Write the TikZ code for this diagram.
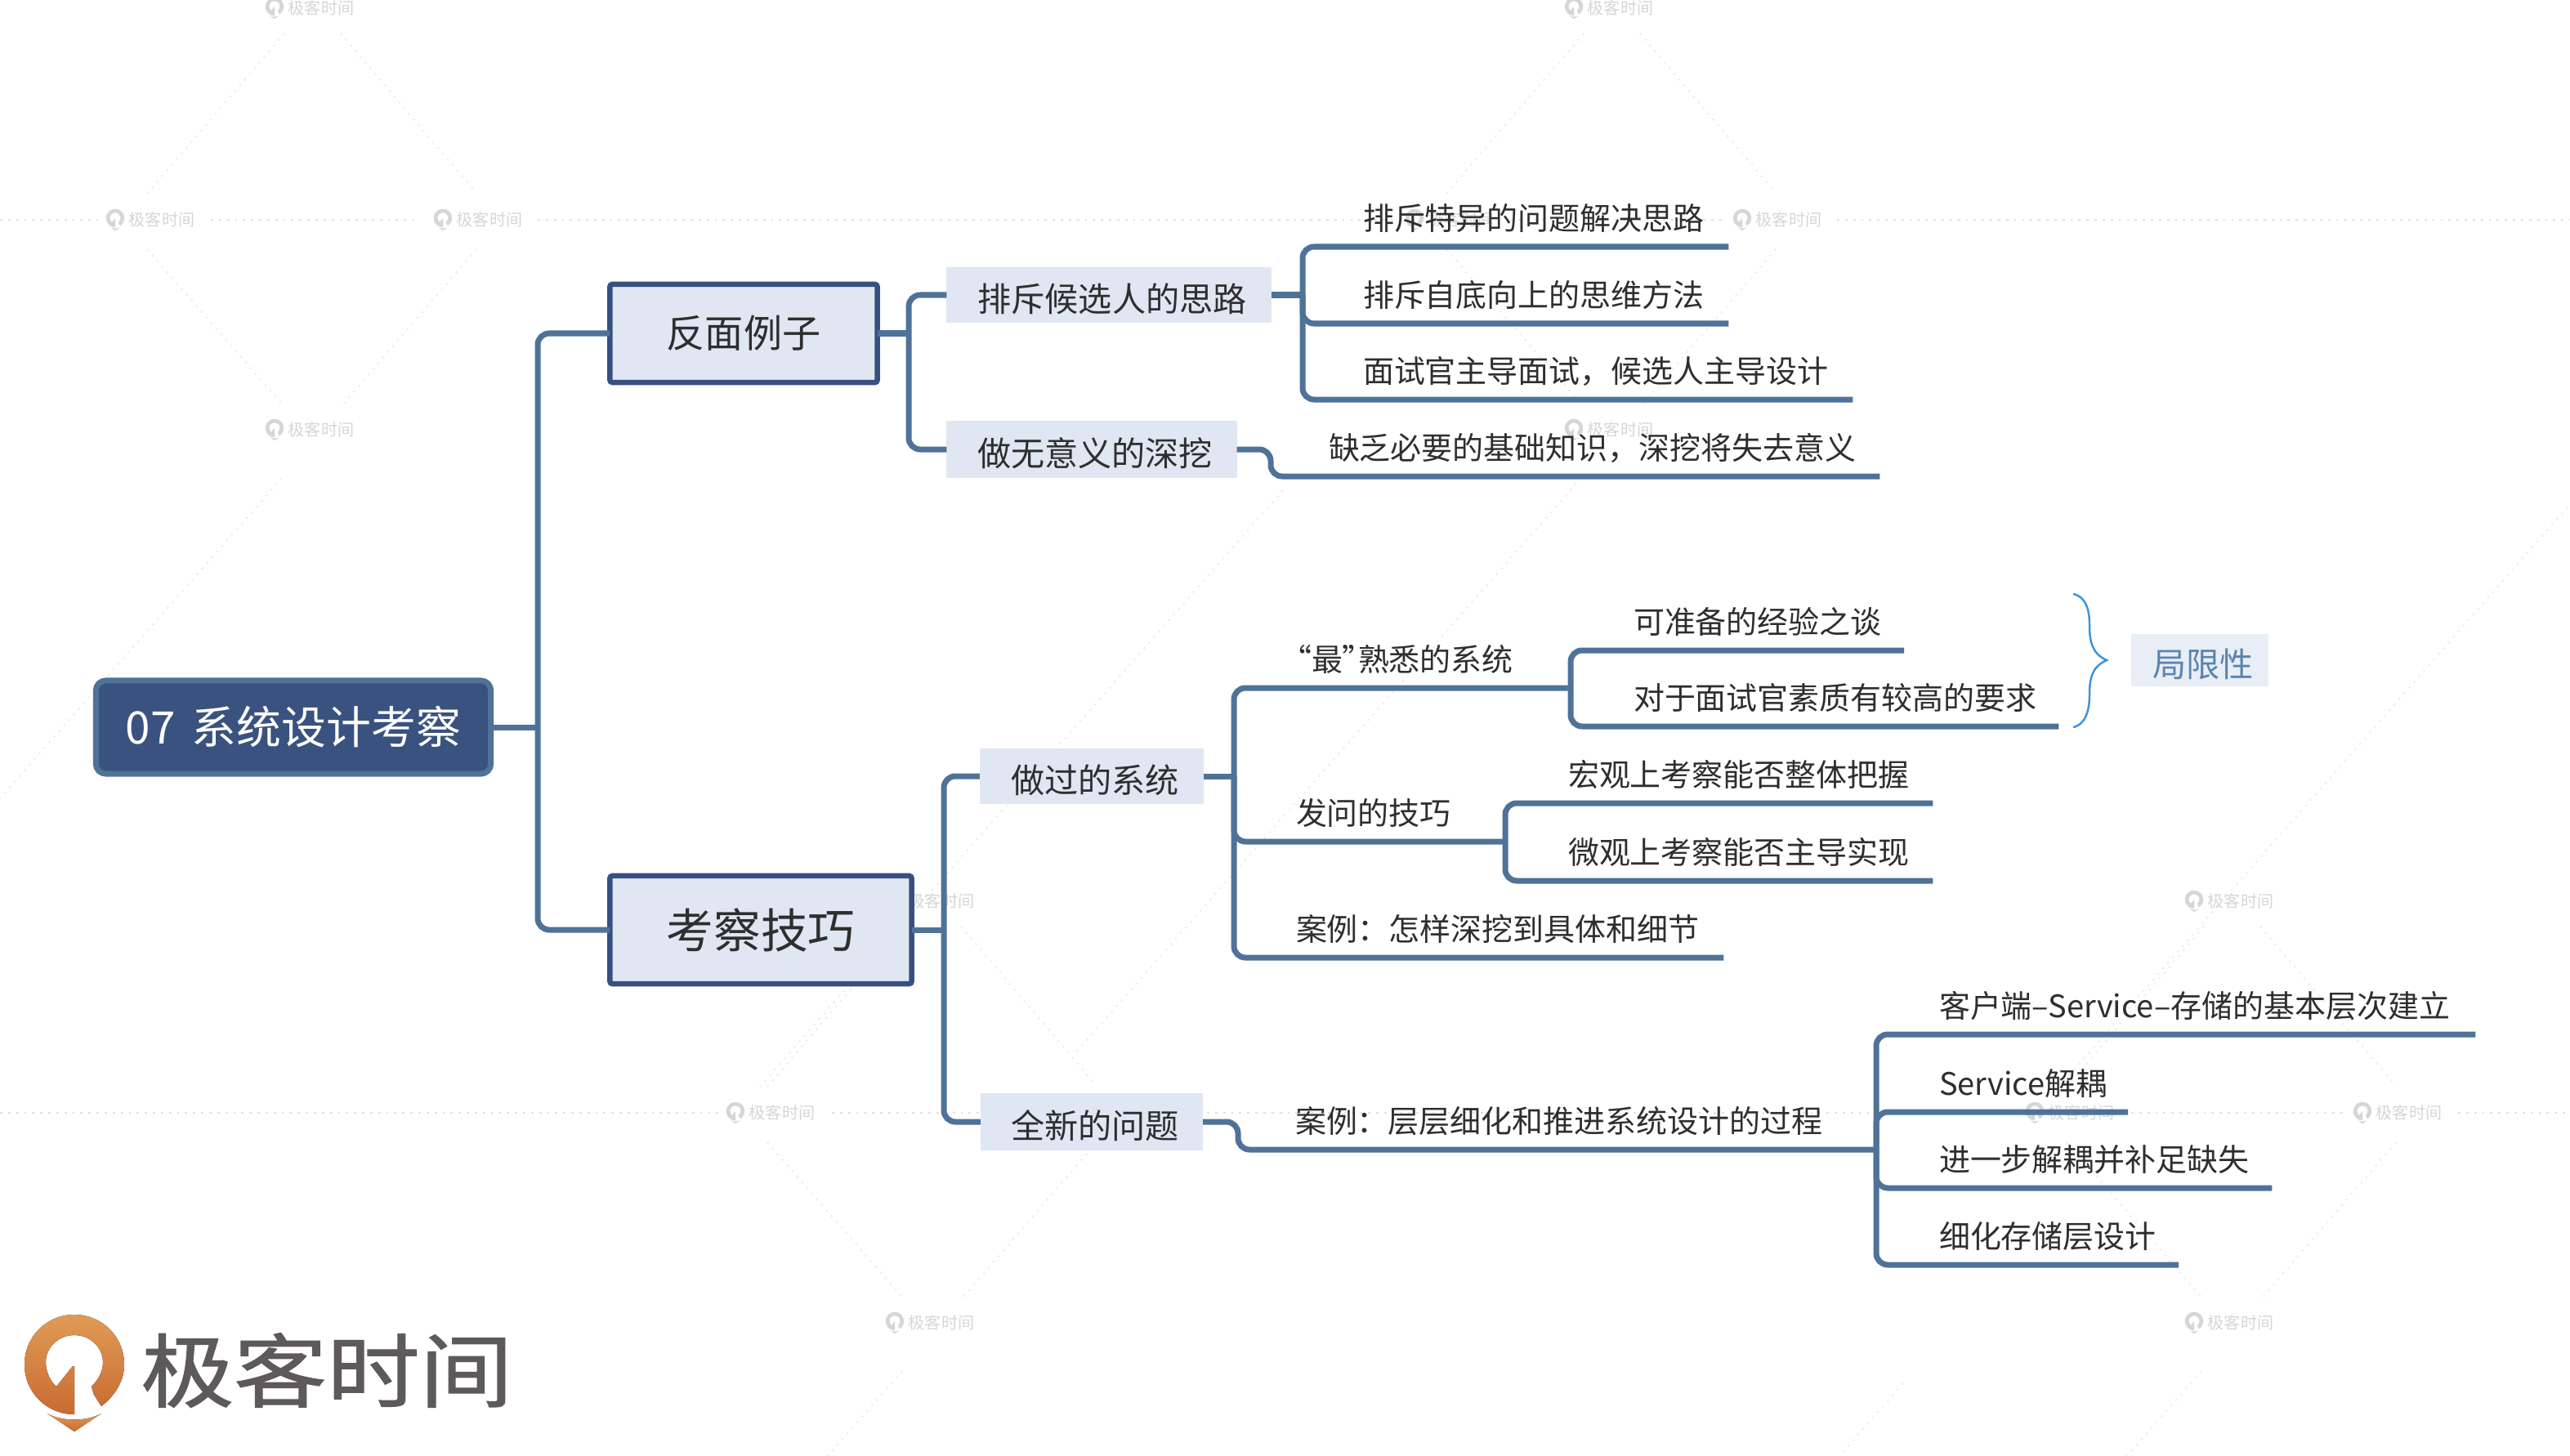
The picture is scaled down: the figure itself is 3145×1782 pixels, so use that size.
\documentclass[tikz,border=0pt]{standalone}
\usepackage{fontspec}
\setmainfont{Noto Sans CJK SC}
\newfontfamily\logofont[FakeBold=1.2]{Noto Sans CJK SC}
\usepackage{tikz}
\definecolor{linkblue}{RGB}{79, 114, 152}
\definecolor{rootfill}{RGB}{57, 82, 127}
\definecolor{boxedge}{RGB}{54, 80, 127}
\definecolor{boxfill}{RGB}{224, 230, 242}
\definecolor{notefill}{RGB}{232, 237, 246}
\definecolor{notetext}{RGB}{91, 132, 173}
\definecolor{bracecol}{RGB}{61, 147, 219}
\definecolor{inktext}{RGB}{46, 46, 46}
\definecolor{logotext}{RGB}{94, 90, 90}
\definecolor{logotop}{RGB}{224, 156, 85}
\definecolor{logobot}{RGB}{201, 106, 50}
\definecolor{wmgray}{RGB}{214, 214, 214}
\definecolor{wmline}{RGB}{226, 226, 226}
\definecolor{wmdiag}{RGB}{236, 236, 236}
\tikzset{
  branch/.style={line width=0.07cm, linkblue, rounded corners=0.14cm},
  rootbox/.style={draw=linkblue, fill=rootfill, line width=0.07cm, rounded corners=0.12cm,
    text=white, outer sep=0pt, font=\fontsize{15.6}{18}\selectfont},
  topbox/.style={draw=boxedge, fill=boxfill, line width=0.065cm, rounded corners=0.03cm,
    text=inktext, outer sep=0pt},
  subbox/.style={fill=boxfill, text=inktext, outer sep=0pt, text height=0.41cm, text depth=0cm,
    font=\fontsize{11.7}{14}\selectfont, execute at begin node=\hspace*{0.08cm}},
  topic/.style={anchor=south west, inner xsep=0pt, inner ysep=0.205cm, outer sep=0pt, text depth=0pt,
    text width=#1, align=left, text=inktext, font=\fontsize{10.8}{13}\selectfont,
    execute at begin node=\hspace*{-0.02cm}},
  wmtext/.style={text=wmgray, inner sep=0pt, font=\fontsize{5.7}{7}\selectfont},
  wmstroke/.style={wmline, line width=0.8pt, dotted},
  wmslant/.style={wmdiag, line width=0.6pt, dotted},
  pics/pinlogo/.style={code={
    \fill[pic actions] (0,61) .. controls (-34,61) and (-61,34) .. (-61,0)
      .. controls (-61,-34) and (-34,-61) .. (0,-61)
      .. controls (34,-61) and (61,-34) .. (61,0)
      .. controls (61,20) and (50,38) .. (33,51) -- (24,37) -- (21,27)
      .. controls (30,18) and (35,8) .. (35,-3)
      .. controls (35,-21) and (19,-36) .. (0,-36)
      .. controls (-19,-36) and (-35,-21) .. (-35,-3)
      .. controls (-35,8) and (-30,20) .. (-22,27) -- (-2,2) -- (0,2) -- cycle;
    \fill[pic actions] (-33,60) .. controls (-15,70) and (15,70) .. (33,60) -- (0,82) -- cycle;
  }},
}

\begin{document}
\begin{tikzpicture}[x=0.01cm, y=-0.01cm]
    \useasboundingbox (0,0) rectangle (3145,1782);

    % Watermark lattice
    \foreach \ox/\oy in {0/0, 1590/0, 759/1093, 2349/1093} {
        \draw[wmslant] (348+\ox,41+\oy) -- (180+\ox,237+\oy);
        \draw[wmslant] (417+\ox,41+\oy) -- (583+\ox,236+\oy);
        \draw[wmslant] (180+\ox,305+\oy) -- (348+\ox,498+\oy);
        \draw[wmslant] (583+\ox,305+\oy) -- (417+\ox,498+\oy);
    }
    \clip (0,0) rectangle (3145,1782);
    \foreach \ox/\oy in {0/0, 1590/0, 759/1093, 2349/1093} {
        \draw[wmslant] (345+\ox,585+\oy) -- (-275+\ox,1290+\oy);
    }
    \foreach \ox/\oy in {0/0, 1590/0, 759/1093} {
        \draw[wmslant] (1570+\ox,600+\oy) -- (930+\ox,1330+\oy);
    }
    \foreach \ya/\xa/\xb in {269/0/120, 269/258/506, 269/658/1710, 269/1848/2110, 269/2248/3145,
        1362/0/880, 1362/1018/1280, 1362/1418/2470, 1362/2608/2870, 1362/3008/3145} {
        \draw[wmstroke] (\xa,\ya) -- (\xb,\ya);
    }
    \foreach \wx/\wy [count=\wn] in {336/10, 141/269, 542/269, 336/526, 1926/10, 1731/269, 2132/269, 1926/526,
        1095/1103, 900/1362, 1301/1362, 1095/1619, 2685/1103, 2490/1362, 2891/1362, 2685/1619} {
        \pic[scale=0.185, fill=wmgray] at (\wx,\wy-2) {pinlogo};
        \node[wmtext] (wm\wn) at (\wx+57,\wy) {极客时间};
    }

    % Brand in the corner
    \pic[top color=logotop, bottom color=logobot] at (91,1670) {pinlogo};
    \node[text=logotext, inner sep=0pt, xscale=1.16, transform shape,
        font=\fontsize{27.9}{30}\logofont] (brand) at (400,1677) {极客时间};

    % Root and the two main boxes
    \node[rootbox, minimum width=4.83cm, minimum height=1.14cm] (root) at (359,890) {07\hspace{0.08cm} 系统设计考察};
    \node[topbox, minimum width=3.27cm, minimum height=1.20cm, font=\fontsize{13.4}{16}\selectfont] (counter) at (910,408) {反面例子};
    \node[topbox, minimum width=3.69cm, minimum height=1.32cm, font=\fontsize{16.4}{20}\selectfont] (skills) at (931,1138) {考察技巧};
    \coordinate (jroot) at (658,890);
    \draw[branch] (root.east) -- (jroot);
    \draw[branch] (jroot) |- (counter.west);
    \draw[branch] (jroot) |- (skills.west);

    % Counter examples
    \node[subbox, minimum width=3.97cm, minimum height=0.67cm] (reject) at (1357,361) {排斥候选人的思路};
    \node[subbox, minimum width=3.55cm, minimum height=0.70cm] (pointless) at (1336,550) {做无意义的深挖};
    \coordinate (jcounter) at (1112,408);
    \draw[branch] (counter.east) -- (jcounter);
    \draw[branch] (jcounter) |- (reject.west);
    \draw[branch] (jcounter) |- (pointless.west);

    \node[topic=4.45cm] (reject1) at (1670,302) {排斥特异的问题解决思路};
    \node[topic=4.45cm] (reject2) at (1670,396) {排斥自底向上的思维方法};
    \node[topic=5.97cm] (reject3) at (1670,489) {面试官主导面试，候选人主导设计};
    \coordinate (jreject) at (1594,361);
    \draw[branch] (reject.east) -- (jreject);
    \draw[branch] (jreject) |- (reject1.south east);
    \draw[branch] (jreject) |- (reject2.south east);
    \draw[branch] (jreject) |- (reject3.south east);

    \node[topic=6.72cm] (pointless1) at (1628,583) {缺乏必要的基础知识，深挖将失去意义};
    \coordinate (jpointless) at (1555,550);
    \draw[branch] (pointless.east) -- (jpointless) |- (pointless1.south east);

    % Interview skills
    \node[subbox, minimum width=2.74cm, minimum height=0.68cm] (done) at (1336,950) {做过的系统};
    \node[subbox, minimum width=2.72cm, minimum height=0.69cm] (fresh) at (1336,1373) {全新的问题};
    \coordinate (jskills) at (1155,1138);
    \draw[branch] (skills.east) -- (jskills);
    \draw[branch] (jskills) |- (done.west);
    \draw[branch] (jskills) |- (fresh.west);

    \node[topic=3.34cm] (known) at (1588,842) {\hspace*{-0.5em}“最”\hspace*{-0.5em}熟悉的系统};
    \node[topic=2.54cm] (asking) at (1588,1030) {发问的技巧};
    \node[topic=5.21cm] (digging) at (1588,1172) {案例：怎样深挖到具体和细节};
    \coordinate (jdone) at (1510,950);
    \draw[branch] (done.east) -- (jdone);
    \draw[branch] (jdone) |- (known.south east);
    \draw[branch] (jdone) |- (asking.south east);
    \draw[branch] (jdone) |- (digging.south east);

    \node[topic=3.29cm] (known1) at (2001,796) {可准备的经验之谈};
    \node[topic=5.18cm] (known2) at (2001,889) {对于面试官素质有较高的要求};
    \coordinate (jknown) at (1922,842);
    \draw[branch] (jknown) |- (known1.south east);
    \draw[branch] (jknown) |- (known2.south east);

    \node[topic=4.44cm] (asking1) at (1921,983) {宏观上考察能否整体把握};
    \node[topic=4.44cm] (asking2) at (1921,1078) {微观上考察能否主导实现};
    \coordinate (jasking) at (1842,1030);
    \draw[branch] (jasking) |- (asking1.south east);
    \draw[branch] (jasking) |- (asking2.south east);

    % Limitation note
    \draw[bracecol, line width=0.7pt] (2537,727) .. controls (2552,730) and (2557,745) .. (2557,765)
        .. controls (2557,785) and (2560,800) .. (2578,808) .. controls (2560,816) and (2557,830) .. (2557,850)
        .. controls (2557,870) and (2552,887) .. (2537,890);
    \node[subbox, fill=notefill, text=notetext, minimum width=1.68cm, minimum height=0.62cm] (limit) at (2692,808) {局限性};

    % New problem
    \node[topic=7.09cm] (layering) at (1587,1407) {案例：层层细化和推进系统设计的过程};
    \coordinate (jfresh) at (1515,1373);
    \draw[branch] (fresh.east) -- (jfresh) |- (layering.south east);

    \node[topic=6.54cm] (layer1) at (2375,1266) {客户端–Service–存储的基本层次建立};
    \node[topic=2.29cm] (layer2) at (2375,1361) {Service解耦};
    \node[topic=4.05cm] (layer3) at (2375,1454) {进一步解耦并补足缺失};
    \node[topic=2.91cm] (layer4) at (2375,1548) {细化存储层设计};
    \coordinate (jlayer) at (2296,1407);
    \draw[branch] (jlayer) |- (layer1.south east);
    \draw[branch] (jlayer) |- (layer2.south east);
    \draw[branch] (jlayer) |- (layer3.south east);
    \draw[branch] (jlayer) |- (layer4.south east);
\end{tikzpicture}
\end{document}
